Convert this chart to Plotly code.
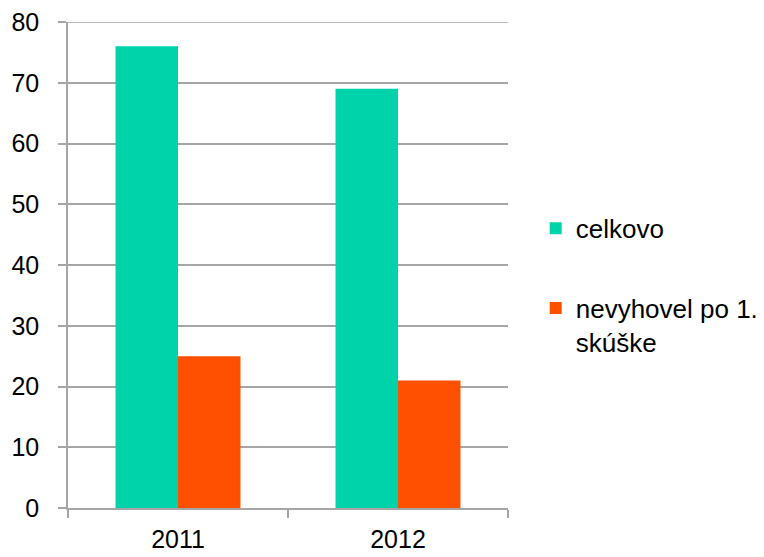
import plotly.graph_objects as go

years = ["2011", "2012"]
celkovo = [76, 69]
nevyhovel = [25, 21]
series_names = ["celkovo", "nevyhovel po 1.<br>skúške"]
colors = ["#00D2AA", "#FF4F00"]
y_ticks = [0, 10, 20, 30, 40, 50, 60, 70, 80]

grid = "#A6A6A6"
font = dict(family="Liberation Sans, Arial, sans-serif", size=25, color="#000000")

fig = go.Figure()
for i, (name, vals) in enumerate(zip(series_names, [celkovo, nevyhovel])):
    fig.add_trace(go.Bar(
        x=years, y=vals, name=name,
        marker=dict(color=colors[i], line=dict(width=0)),
        legendgroup=f"g{i}",
    ))

# top gridline (plotly drops the one at the range edge)
fig.add_shape(type="line", xref="paper", x0=0, x1=1, yref="y",
              y0=y_ticks[-1], y1=y_ticks[-1],
              line=dict(color=grid, width=1.5), layer="below")

fig.update_layout(
    width=780, height=549,
    margin=dict(l=60, r=280, t=14, b=49),
    paper_bgcolor="white", plot_bgcolor="white",
    font=font,
    barmode="group",
    bargap=0.432, bargroupgap=0,
    showlegend=True,
    legend=dict(
        x=1.063, xanchor="left", y=0.624, yanchor="top",
        font=dict(size=26), tracegroupgap=43, valign="top",
        traceorder="grouped", bgcolor="rgba(0,0,0,0)",
    ),
)
fig.update_xaxes(
    type="category", showline=True, linecolor=grid, linewidth=1.5,
    ticks="outside", tickson="boundaries", ticklen=8, tickcolor=grid, tickwidth=1.5,
    showgrid=False, ticklabelstandoff=8, automargin=False,
    ticklabeloverflow="allow",
)
fig.update_yaxes(
    range=[0, 80], tickvals=y_ticks, showline=True, linecolor=grid, linewidth=1.5,
    ticks="outside", ticklen=8, tickcolor=grid, tickwidth=1.5,
    showgrid=True, gridcolor=grid, gridwidth=1.5, zeroline=False,
    ticklabelstandoff=14, automargin=False, ticklabeloverflow="allow",
)

fig.write_html("out.html")
